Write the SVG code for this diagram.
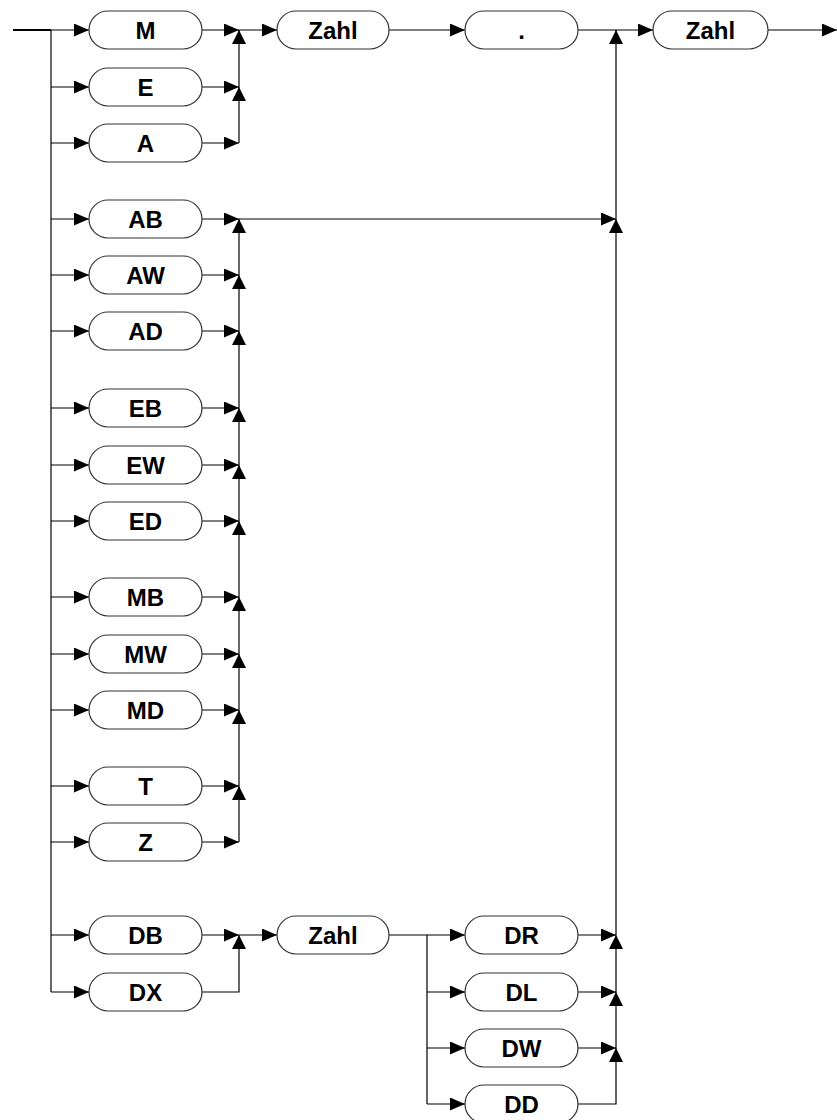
<svg xmlns="http://www.w3.org/2000/svg" width="837" height="1120" viewBox="0 0 837 1120">
<defs>
<style>
.box{fill:#fff;stroke:#333;stroke-width:1.2}
.lbl{font-family:"Liberation Sans",Arial,sans-serif;font-weight:bold;font-size:24px;text-anchor:middle;fill:#000}
.ln{fill:none;stroke:#000;stroke-width:1.2}
</style>
<marker id="ar" viewBox="0 0 15 13" refX="15" refY="6.5" markerWidth="15" markerHeight="13" markerUnits="userSpaceOnUse" orient="auto"><path d="M0,0L15,6.5L0,13z" fill="#000"/></marker>
<marker id="au" viewBox="0 0 14 14" refX="14" refY="7" markerWidth="14" markerHeight="14" markerUnits="userSpaceOnUse" orient="auto"><path d="M0,0L14,7L0,14z" fill="#000"/></marker>
</defs>
<g id="connectors">
<path d="M13,30H51" stroke="#000" stroke-width="2" fill="none"/>
<path class="ln" d="M51,30V992"/>
<path class="ln" marker-end="url(#ar)" d="M51,30H89"/>
<path class="ln" marker-end="url(#ar)" d="M51,87H89"/>
<path class="ln" marker-end="url(#ar)" d="M51,143H89"/>
<path class="ln" marker-end="url(#ar)" d="M51,219H89"/>
<path class="ln" marker-end="url(#ar)" d="M51,275H89"/>
<path class="ln" marker-end="url(#ar)" d="M51,331H89"/>
<path class="ln" marker-end="url(#ar)" d="M51,408H89"/>
<path class="ln" marker-end="url(#ar)" d="M51,465H89"/>
<path class="ln" marker-end="url(#ar)" d="M51,521H89"/>
<path class="ln" marker-end="url(#ar)" d="M51,597H89"/>
<path class="ln" marker-end="url(#ar)" d="M51,654H89"/>
<path class="ln" marker-end="url(#ar)" d="M51,710H89"/>
<path class="ln" marker-end="url(#ar)" d="M51,786H89"/>
<path class="ln" marker-end="url(#ar)" d="M51,842H89"/>
<path class="ln" marker-end="url(#ar)" d="M51,935H89"/>
<path class="ln" marker-end="url(#ar)" d="M51,992H89"/>
<path class="ln" marker-end="url(#ar)" d="M202,30H239"/>
<path class="ln" marker-end="url(#ar)" d="M202,87H239"/>
<path class="ln" marker-end="url(#ar)" d="M202,143H239"/>
<path class="ln" marker-end="url(#au)" d="M239,87V30"/>
<path class="ln" marker-end="url(#au)" d="M239,143V87"/>
<path class="ln" marker-end="url(#ar)" d="M239,30H277"/>
<path class="ln" marker-end="url(#ar)" d="M389,30H465"/>
<path class="ln" d="M578,30H616"/>
<path class="ln" marker-end="url(#ar)" d="M616,30H653"/>
<path class="ln" marker-end="url(#ar)" d="M768,30H837"/>
<path class="ln" marker-end="url(#ar)" d="M202,219H239"/>
<path class="ln" marker-end="url(#ar)" d="M202,275H239"/>
<path class="ln" marker-end="url(#ar)" d="M202,331H239"/>
<path class="ln" marker-end="url(#ar)" d="M202,408H239"/>
<path class="ln" marker-end="url(#ar)" d="M202,465H239"/>
<path class="ln" marker-end="url(#ar)" d="M202,521H239"/>
<path class="ln" marker-end="url(#ar)" d="M202,597H239"/>
<path class="ln" marker-end="url(#ar)" d="M202,654H239"/>
<path class="ln" marker-end="url(#ar)" d="M202,710H239"/>
<path class="ln" marker-end="url(#ar)" d="M202,786H239"/>
<path class="ln" marker-end="url(#ar)" d="M202,842H239"/>
<path class="ln" marker-end="url(#au)" d="M239,275V219"/>
<path class="ln" marker-end="url(#au)" d="M239,331V275"/>
<path class="ln" marker-end="url(#au)" d="M239,408V331"/>
<path class="ln" marker-end="url(#au)" d="M239,465V408"/>
<path class="ln" marker-end="url(#au)" d="M239,521V465"/>
<path class="ln" marker-end="url(#au)" d="M239,597V521"/>
<path class="ln" marker-end="url(#au)" d="M239,654V597"/>
<path class="ln" marker-end="url(#au)" d="M239,710V654"/>
<path class="ln" marker-end="url(#au)" d="M239,786V710"/>
<path class="ln" marker-end="url(#au)" d="M239,842V786"/>
<path class="ln" marker-end="url(#ar)" d="M239,219H616"/>
<path class="ln" marker-end="url(#ar)" d="M202,935H239"/>
<path class="ln" marker-end="url(#au)" d="M202,992H239V935"/>
<path class="ln" marker-end="url(#ar)" d="M239,935H277"/>
<path class="ln" d="M389,935H427V1104"/>
<path class="ln" marker-end="url(#ar)" d="M427,935H465"/>
<path class="ln" marker-end="url(#ar)" d="M427,992H465"/>
<path class="ln" marker-end="url(#ar)" d="M427,1048H465"/>
<path class="ln" marker-end="url(#ar)" d="M427,1104H465"/>
<path class="ln" marker-end="url(#ar)" d="M578,935H616"/>
<path class="ln" marker-end="url(#ar)" d="M578,992H616"/>
<path class="ln" marker-end="url(#ar)" d="M578,1048H616"/>
<path class="ln" marker-end="url(#au)" d="M578,1104H616V1048"/>
<path class="ln" marker-end="url(#au)" d="M616,1048V992"/>
<path class="ln" marker-end="url(#au)" d="M616,992V935"/>
<path class="ln" marker-end="url(#au)" d="M616,935V219"/>
<path class="ln" marker-end="url(#au)" d="M616,219V30"/>
</g>
<g id="n-M"><rect class="box" x="89" y="11" width="113" height="38" rx="19"/><text class="lbl" x="145.5" y="38.5">M</text></g>
<g id="n-E"><rect class="box" x="89" y="68" width="113" height="38" rx="19"/><text class="lbl" x="145.5" y="95.5">E</text></g>
<g id="n-A"><rect class="box" x="89" y="124" width="113" height="38" rx="19"/><text class="lbl" x="145.5" y="151.5">A</text></g>
<g id="n-AB"><rect class="box" x="89" y="200" width="113" height="38" rx="19"/><text class="lbl" x="145.5" y="227.5">AB</text></g>
<g id="n-AW"><rect class="box" x="89" y="256" width="113" height="38" rx="19"/><text class="lbl" x="145.5" y="283.5">AW</text></g>
<g id="n-AD"><rect class="box" x="89" y="312" width="113" height="38" rx="19"/><text class="lbl" x="145.5" y="339.5">AD</text></g>
<g id="n-EB"><rect class="box" x="89" y="389" width="113" height="38" rx="19"/><text class="lbl" x="145.5" y="416.5">EB</text></g>
<g id="n-EW"><rect class="box" x="89" y="446" width="113" height="38" rx="19"/><text class="lbl" x="145.5" y="473.5">EW</text></g>
<g id="n-ED"><rect class="box" x="89" y="502" width="113" height="38" rx="19"/><text class="lbl" x="145.5" y="529.5">ED</text></g>
<g id="n-MB"><rect class="box" x="89" y="578" width="113" height="38" rx="19"/><text class="lbl" x="145.5" y="605.5">MB</text></g>
<g id="n-MW"><rect class="box" x="89" y="635" width="113" height="38" rx="19"/><text class="lbl" x="145.5" y="662.5">MW</text></g>
<g id="n-MD"><rect class="box" x="89" y="691" width="113" height="38" rx="19"/><text class="lbl" x="145.5" y="718.5">MD</text></g>
<g id="n-T"><rect class="box" x="89" y="767" width="113" height="38" rx="19"/><text class="lbl" x="145.5" y="794.5">T</text></g>
<g id="n-Z"><rect class="box" x="89" y="823" width="113" height="38" rx="19"/><text class="lbl" x="145.5" y="850.5">Z</text></g>
<g id="n-DB"><rect class="box" x="89" y="916" width="113" height="38" rx="19"/><text class="lbl" x="145.5" y="943.5">DB</text></g>
<g id="n-DX"><rect class="box" x="89" y="973" width="113" height="38" rx="19"/><text class="lbl" x="145.5" y="1000.5">DX</text></g>
<g id="n-Zahl1"><rect class="box" x="277" y="11" width="112" height="38" rx="19"/><text class="lbl" x="333" y="38.5">Zahl</text></g>
<g id="n-dot"><rect class="box" x="465" y="11" width="113" height="38" rx="19"/><text class="lbl" x="521.5" y="38.5">.</text></g>
<g id="n-Zahl2"><rect class="box" x="653" y="11" width="115" height="38" rx="19"/><text class="lbl" x="710.5" y="38.5">Zahl</text></g>
<g id="n-Zahl3"><rect class="box" x="277" y="916" width="112" height="38" rx="19"/><text class="lbl" x="333" y="943.5">Zahl</text></g>
<g id="n-DR"><rect class="box" x="465" y="916" width="113" height="38" rx="19"/><text class="lbl" x="521.5" y="943.5">DR</text></g>
<g id="n-DL"><rect class="box" x="465" y="973" width="113" height="38" rx="19"/><text class="lbl" x="521.5" y="1000.5">DL</text></g>
<g id="n-DW"><rect class="box" x="465" y="1029" width="113" height="38" rx="19"/><text class="lbl" x="521.5" y="1056.5">DW</text></g>
<g id="n-DD"><rect class="box" x="465" y="1085" width="113" height="38" rx="19"/><text class="lbl" x="521.5" y="1112.5">DD</text></g>
</svg>
